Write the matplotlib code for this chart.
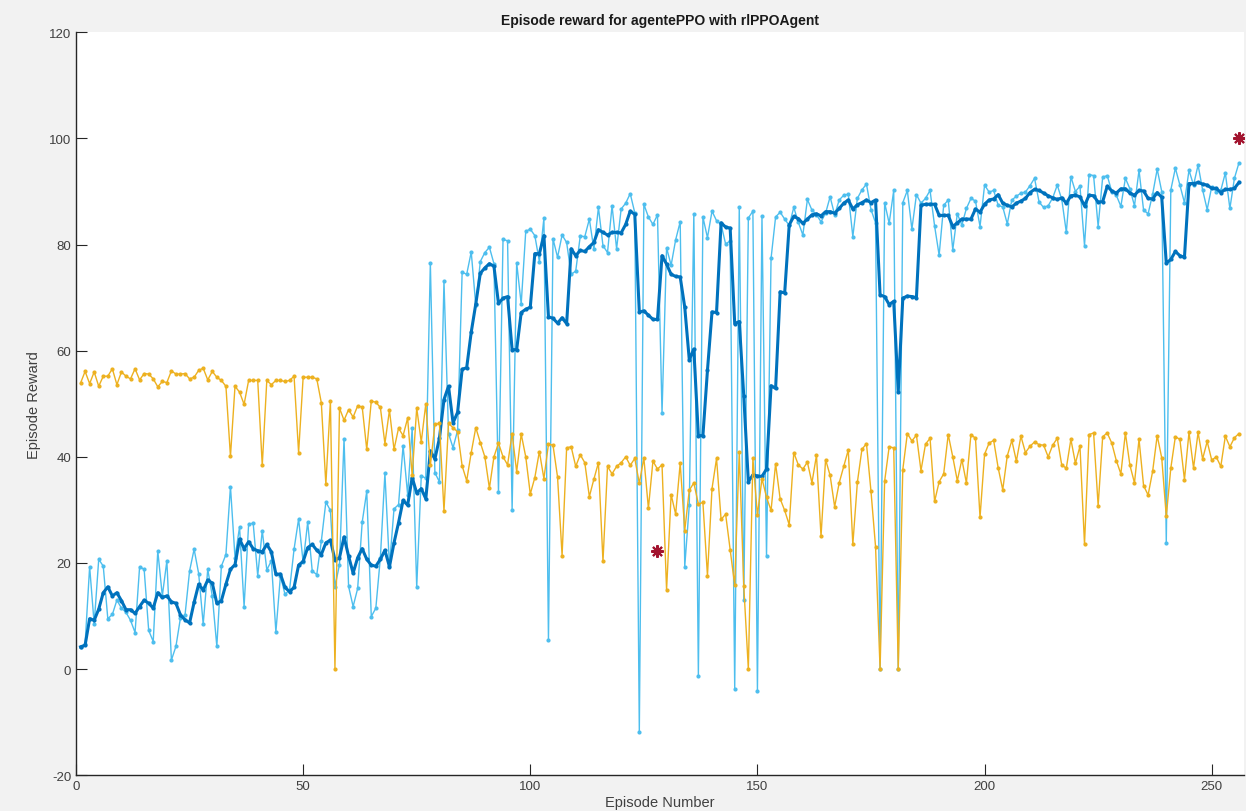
import numpy as np
import matplotlib
matplotlib.use("Agg")
import matplotlib.pyplot as plt

# valores (episodios 1..256)
recompensa = [
    4.2, 4.7, 19.3, 8.5, 20.7, 19.4, 9.5, 10.3, 13.0, 11.5,
    10.7, 9.2, 6.9, 19.3, 18.8, 7.3, 5.2, 22.3, 13.8, 20.4,
    1.7, 4.3, 9.7, 10.2, 18.5, 22.6, 18.0, 8.5, 18.8, 13.8,
    4.3, 19.4, 21.6, 34.4, 21.0, 26.8, 11.8, 27.3, 27.5, 17.6,
    26.1, 18.7, 20.4, 7.0, 17.6, 14.1, 14.9, 22.6, 28.3, 20.1,
    27.7, 18.5, 17.8, 24.1, 31.5, 29.9, 15.5, 19.7, 43.4, 15.6,
    11.8, 15.2, 27.7, 33.5, 9.9, 11.5, 21.0, 36.9, 19.4, 30.2,
    31.0, 42.1, 32.9, 45.4, 15.4, 36.4, 36.0, 76.6, 37.0, 35.3,
    73.1, 44.4, 41.7, 45.0, 74.8, 74.4, 78.6, 68.6, 76.8, 78.5,
    79.5, 76.4, 33.3, 81.0, 80.7, 30.0, 76.6, 68.8, 82.5, 82.9,
    81.7, 76.8, 85.0, 5.4, 81.1, 77.6, 81.8, 80.4, 74.4, 75.0,
    81.6, 81.5, 84.8, 79.1, 87.0, 79.8, 78.5, 87.3, 79.2, 86.7,
    87.8, 89.6, 86.0, -11.8, 87.6, 85.2, 83.8, 85.6, 48.2, 79.4,
    76.1, 80.9, 84.3, 19.3, 30.9, 85.8, -1.2, 85.2, 81.3, 86.3,
    84.5, 83.8, 80.1, 80.7, -3.7, 87.1, 13.1, 85.0, 86.3, -4.2,
    85.4, 21.3, 77.4, 85.2, 86.1, 84.8, 83.6, 87.0, 84.2, 81.8,
    88.5, 86.5, 85.6, 84.3, 85.9, 89.0, 85.6, 88.4, 89.3, 89.5,
    81.5, 88.7, 90.3, 91.4, 86.6, 84.1, 0.0, 87.9, 84.0, 90.2,
    0.0, 87.9, 90.2, 82.9, 89.4, 87.8, 88.7, 90.2, 83.5, 78.0,
    87.4, 88.4, 79.0, 85.8, 83.7, 86.8, 88.7, 88.2, 83.4, 91.2,
    89.9, 90.2, 87.4, 87.1, 83.9, 88.4, 89.1, 89.7, 89.9, 91.1,
    92.5, 88.0, 87.0, 87.3, 88.8, 91.2, 88.5, 82.3, 92.8, 90.0,
    91.0, 79.8, 93.2, 93.0, 83.4, 92.7, 93.0, 90.0, 89.3, 87.2,
    92.5, 90.5, 87.3, 94.0, 86.5, 85.8, 89.5, 94.2, 90.0, 23.8,
    90.3, 94.4, 91.2, 87.9, 94.0, 91.2, 95.0, 90.3, 86.6, 90.9,
    90.0, 90.2, 93.5, 86.8, 92.5, 95.4,
]

media = [
    4.2, 4.5, 9.5, 9.2, 11.3, 14.4, 15.5, 13.8, 14.4, 12.9,
    11.2, 11.2, 10.5, 11.8, 13.0, 12.4, 11.5, 14.4, 13.5, 13.8,
    12.7, 12.4, 10.2, 9.3, 8.7, 12.6, 16.0, 14.9, 16.8, 16.2,
    12.4, 12.9, 16.0, 18.8, 19.7, 24.5, 22.7, 24.0, 22.7, 22.3,
    22.1, 23.5, 22.1, 17.9, 17.9, 15.4, 14.6, 15.4, 19.6, 20.3,
    22.9, 23.5, 22.4, 21.6, 23.8, 24.3, 20.6, 21.0, 24.9, 21.3,
    18.1, 21.0, 22.7, 20.7, 19.6, 19.4, 20.7, 22.4, 19.3, 23.8,
    27.6, 31.8, 30.9, 36.1, 33.2, 34.0, 32.1, 41.1, 39.6, 43.5,
    50.8, 53.3, 46.4, 48.4, 56.5, 56.8, 63.5, 68.8, 74.6, 75.6,
    76.4, 75.9, 68.9, 69.9, 70.2, 60.2, 60.2, 67.2, 67.8, 68.2,
    78.3, 78.3, 81.7, 66.4, 66.1, 65.2, 66.2, 65.1, 79.2, 77.9,
    78.9, 78.7, 79.6, 80.4, 82.8, 82.3, 81.8, 82.3, 82.3, 82.2,
    83.8, 86.3, 85.7, 67.3, 67.5, 66.7, 65.9, 65.9, 77.9, 76.3,
    74.4, 74.0, 73.9, 68.2, 58.3, 60.3, 44.0, 44.0, 56.3, 67.3,
    67.2, 84.1, 83.3, 83.1, 65.1, 65.5, 51.4, 35.3, 36.6, 36.4,
    36.3, 37.7, 53.4, 52.9, 71.1, 70.9, 83.7, 85.3, 84.9, 84.0,
    84.8, 85.6, 85.8, 85.4, 86.2, 86.2, 85.9, 86.8, 87.8, 88.4,
    86.7, 87.5, 87.9, 88.4, 87.9, 88.4, 70.5, 70.2, 68.7, 69.3,
    52.3, 69.9, 70.3, 70.2, 70.0, 87.4, 87.6, 87.6, 87.6, 85.5,
    85.5, 85.5, 83.4, 84.1, 84.8, 84.8, 84.8, 86.7, 86.1, 87.6,
    88.4, 88.6, 89.4, 87.8, 87.4, 87.1, 87.8, 88.2, 88.7, 89.8,
    90.4, 90.2, 89.7, 89.2, 88.8, 88.5, 88.8, 87.8, 89.2, 89.3,
    89.0, 87.3, 89.3, 89.2, 88.0, 88.1, 91.0, 90.1, 89.7, 90.5,
    90.5, 89.7, 89.3, 90.2, 90.1, 88.7, 88.6, 89.8, 88.9, 76.5,
    77.2, 78.7, 77.9, 77.6, 91.5, 91.5, 91.7, 91.4, 91.2, 90.6,
    90.6, 89.8, 90.4, 90.4, 90.6, 91.7,
]

q0 = [
    53.9, 56.1, 53.8, 56.0, 53.3, 55.2, 55.2, 56.6, 53.6, 56.0,
    55.2, 54.7, 56.6, 54.5, 55.7, 55.6, 54.7, 53.2, 54.2, 54.0,
    56.2, 55.6, 55.6, 55.7, 54.7, 55.0, 56.3, 56.7, 54.5, 56.1,
    55.0, 54.4, 53.3, 40.1, 53.3, 52.2, 49.9, 54.4, 54.4, 54.4,
    38.4, 54.4, 53.6, 54.4, 54.4, 54.2, 54.4, 55.2, 40.8, 55.0,
    55.0, 55.0, 54.7, 50.2, 34.8, 50.5, 0.0, 49.2, 46.9, 48.9,
    47.5, 49.6, 49.4, 41.4, 50.5, 50.3, 49.3, 42.5, 48.8, 41.4,
    45.4, 44.0, 47.3, 36.5, 49.2, 42.8, 50.0, 38.4, 46.1, 46.3,
    29.8, 46.3, 45.5, 44.7, 38.3, 35.5, 40.8, 45.5, 42.7, 40.0,
    34.1, 40.0, 42.6, 40.0, 38.5, 44.4, 37.2, 44.3, 40.0, 33.0,
    36.1, 41.0, 35.9, 42.4, 42.2, 36.2, 21.4, 41.7, 41.9, 38.2,
    40.4, 38.9, 32.5, 35.8, 38.9, 20.3, 38.2, 36.8, 38.2, 38.9,
    40.0, 38.4, 39.7, 35.0, 39.8, 30.3, 39.2, 37.7, 38.5, 14.9,
    32.9, 29.2, 38.8, 26.1, 33.7, 35.1, 31.1, 31.4, 17.6, 34.0,
    39.7, 28.2, 29.2, 22.5, 15.8, 40.9, 15.6, 0.0, 39.7, 29.0,
    35.9, 32.4, 29.9, 38.7, 32.1, 29.9, 27.2, 40.8, 38.5, 37.7,
    39.0, 35.1, 40.3, 25.0, 39.5, 36.5, 30.6, 35.1, 38.2, 41.3,
    23.5, 35.2, 41.4, 42.5, 33.5, 23.1, 0.0, 35.4, 41.9, 41.7,
    0.0, 37.6, 44.4, 43.0, 44.1, 37.4, 42.4, 43.5, 31.6, 35.3,
    36.8, 44.2, 40.0, 35.5, 39.5, 35.1, 44.2, 43.5, 28.6, 40.5,
    42.6, 43.1, 37.9, 33.8, 40.2, 43.1, 39.2, 43.9, 40.8, 42.0,
    42.8, 42.3, 42.2, 40.0, 42.2, 43.5, 38.4, 37.9, 43.3, 38.8,
    42.0, 23.5, 44.2, 44.5, 30.8, 43.8, 44.5, 42.6, 39.3, 36.8,
    44.5, 38.4, 35.1, 43.3, 34.6, 32.8, 37.3, 44.0, 39.8, 28.8,
    37.9, 43.8, 43.3, 35.7, 44.6, 37.9, 44.6, 39.6, 42.9, 39.4,
    40.0, 38.2, 43.9, 41.9, 43.6, 44.4,
]

estrela_ep = [128, 256]
estrela_val = [22.3, 100.0]

episodios = np.arange(1, len(recompensa) + 1)

plt.rcParams['font.family'] = ['Liberation Sans', 'DejaVu Sans']
plt.rcParams['axes.unicode_minus'] = False

fig = plt.figure(figsize=(12.46, 8.12), dpi=100, facecolor='#f2f2f2')
ax = fig.add_axes([0.061, 0.044, 0.937, 0.915])
ax.set_facecolor('white')

ax.plot(episodios, recompensa, color='#4DBEEE', linewidth=1.0, marker='.', markersize=4)
ax.plot(episodios, media, color='#0072BD', linewidth=2.2, marker='.', markersize=4)
ax.plot(episodios, q0, color='#EDB120', linewidth=1.0, marker='.', markersize=4)
ax.plot(estrela_ep, estrela_val, linestyle='none', marker=(8, 2, 0), markersize=9,
        markeredgewidth=1.5, color='#A2142F')

ax.set_xlim(0, 257)
ax.set_ylim(-20, 120)
ax.set_xticks([0, 50, 100, 150, 200, 250])
ax.set_yticks(np.arange(-20, 121, 20))

for lado in ['top', 'right']:
    ax.spines[lado].set_visible(False)
for lado in ['left', 'bottom']:
    ax.spines[lado].set_color('#262626')
    ax.spines[lado].set_linewidth(1.0)

ax.tick_params(direction='in', length=8, width=0.8, color='#262626', labelcolor='#404040',
               labelsize=9.5)
ax.set_xlabel("Episode Number", fontsize=10.5, color='#404040', labelpad=2)
ax.set_ylabel("Episode Reward", fontsize=10.5, color='#404040', labelpad=6)
ax.set_title("Episode reward for agentePPO with rlPPOAgent", fontsize=10, fontweight='bold',
             color='#1a1a1a', pad=6)

fig.savefig("out.png", dpi=100, facecolor=fig.get_facecolor())
